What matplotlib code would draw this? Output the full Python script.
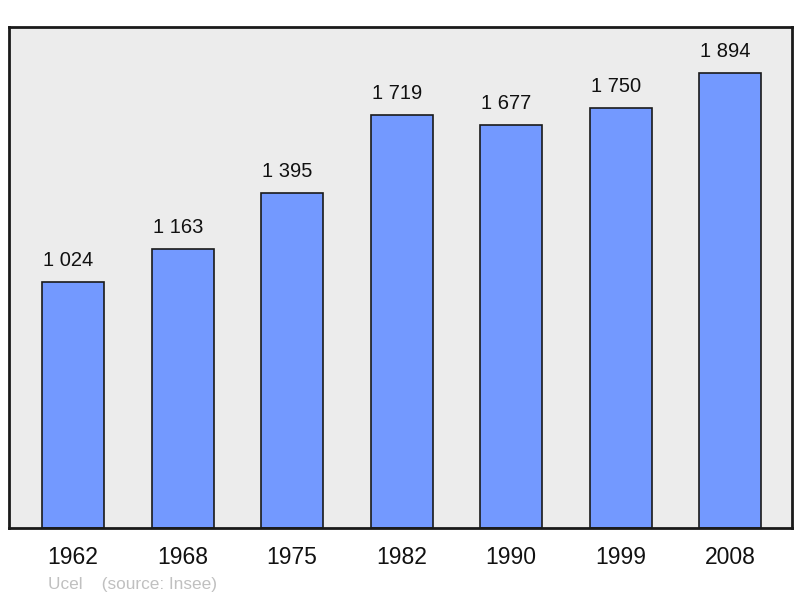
import matplotlib
matplotlib.use("Agg")
import matplotlib.pyplot as plt

years = ["1962", "1968", "1975", "1982", "1990", "1999", "2008"]
population = [1024, 1163, 1395, 1719, 1677, 1750, 1894]
value_labels = ["1 024", "1 163", "1 395", "1 719", "1 677", "1 750", "1 894"]

plt.rcParams['font.family'] = ['Liberation Sans', 'DejaVu Sans']

fig = plt.figure(figsize=(8, 5.98), dpi=100)
ax = fig.add_axes([9/800, 1-528/598, (792-9)/800, (528-27)/598])
ax.set_facecolor('#ececec')
x = list(range(len(years)))
ax.bar(x, population, width=0.565, color='#7399ff', edgecolor='#1a1a1a', linewidth=1.2, zorder=2)
for xi, v, lab in zip(x, population, value_labels):
    ax.annotate(lab, (xi, v), xytext=(-3.5, 8.5), textcoords='offset points',
                ha='center', va='bottom', fontsize=14.5, color='#111111')
ax.set_xlim(-0.585, 6.565)
ax.set_ylim(0, 2086)
ax.set_yticks([])
ax.set_xticks(x)
ax.set_xticklabels(years, fontsize=16.5, color='#111111')
for lab in ax.get_xticklabels():
    lab.set_x(lab.get_position()[0])
ax.tick_params(axis='x', length=0, pad=13)
for s in ax.spines.values():
    s.set_linewidth(2)
    s.set_color('#1a1a1a')
fig.text(48/800, 1-584/598, "Ucel    (source: Insee)", fontsize=12.4, color='#c0c0c0', va='center', ha='left')
fig.savefig("out.png", dpi=100)
